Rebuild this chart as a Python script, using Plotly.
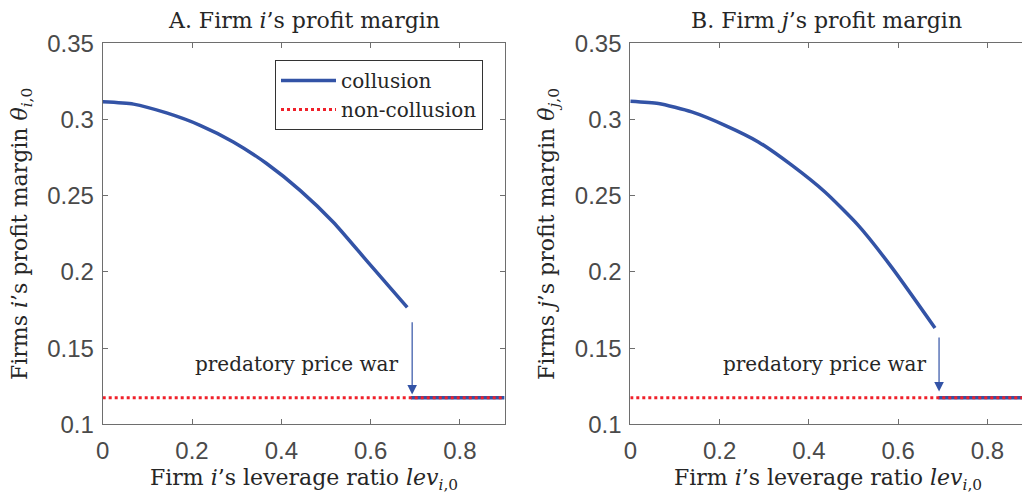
import plotly.graph_objects as go

# ---- data ----
lev_col = [0.0, 0.069, 0.143, 0.218, 0.2925, 0.367, 0.442, 0.5165, 0.591, 0.682]
theta_i_col = [0.3116, 0.3101, 0.3043, 0.2962, 0.2853, 0.2711, 0.2535, 0.2326, 0.2074, 0.1767]
lev_col_j = [0.0, 0.063, 0.1375, 0.212, 0.2867, 0.3615, 0.436, 0.5106, 0.5855, 0.6824]
theta_j_col = [0.312, 0.3105, 0.305, 0.2962, 0.2853, 0.270, 0.2524, 0.2305, 0.203, 0.1632]
lev_war = [0.69, 0.9]
theta_war = [0.1175, 0.1175]
lev_noncol = [0.0, 0.9]
theta_noncol = [0.1175, 0.1175]
arrow_i = dict(x=0.693, y_from=0.168, y_to=0.1195)
arrow_j = dict(x=0.6915, y_from=0.158, y_to=0.1215)
x_ticks = [0, 0.2, 0.4, 0.6, 0.8]
x_ticklabels = ["0", "0.2", "0.4", "0.6", "0.8"]
y_ticks = [0.1, 0.15, 0.2, 0.25, 0.3, 0.35]
y_ticklabels = ["0.1", "0.15", "0.2", "0.25", "0.3", "0.35"]

BLUE = "#3353a6"
RED = "#f0202a"
AXC = "#6e6e6e"
TXT = "#262626"
TICKTXT = "#4a4a4a"
SERIF = "DejaVu Serif"
SANS = "Liberation Sans"

W, H = 1022, 495
fig = go.Figure()

def add_panel(xs, ys, xa, ya, legend):
    fig.add_trace(go.Scatter(x=xs, y=ys, mode="lines",
                             line=dict(color=BLUE, width=3.5, shape="spline", smoothing=0.6),
                             name="collusion", legendgroup="c",
                             showlegend=legend, xaxis=xa, yaxis=ya))
    fig.add_trace(go.Scatter(x=lev_war, y=theta_war, mode="lines",
                             line=dict(color=BLUE, width=3.5), name="collusion", legendgroup="c",
                             showlegend=False, xaxis=xa, yaxis=ya))
    fig.add_trace(go.Scatter(x=lev_noncol, y=theta_noncol, mode="lines",
                             line=dict(color=RED, width=3, dash="dot"), name="non-collusion",
                             showlegend=legend, xaxis=xa, yaxis=ya))

add_panel(lev_col, theta_i_col, "x", "y", True)
add_panel(lev_col_j, theta_j_col, "x2", "y2", False)

px = lambda v: v / W
py = lambda v: 1 - v / H

axis_common = dict(showline=True, linecolor=AXC, linewidth=1, ticks="inside", ticklen=5,
                   tickcolor=AXC, showgrid=False, zeroline=False, automargin=False,
                   tickfont=dict(family=SANS, size=24, color=TICKTXT))
ydom = [py(424.3), py(43.3)]
fig.update_layout(
    width=W, height=H, margin=dict(l=0, r=0, t=0, b=0, autoexpand=False),
    plot_bgcolor="white", paper_bgcolor="white",
    xaxis=dict(domain=[px(102.7), px(504.6)], range=[0, 0.9], tickvals=x_ticks, ticktext=x_ticklabels,
               mirror="ticks", anchor="y", ticklabelstandoff=5, **axis_common),
    yaxis=dict(domain=ydom, range=[0.1, 0.35], tickvals=y_ticks, ticktext=y_ticklabels,
               mirror="ticks", anchor="x", ticklabelstandoff=3, **axis_common),
    xaxis2=dict(domain=[px(630.3), 1.0], range=[0, (1022 - 630.3) / 446.5], tickvals=x_ticks,
                ticktext=x_ticklabels, mirror="ticks", anchor="y2", ticklabelstandoff=5, **axis_common),
    yaxis2=dict(domain=ydom, range=[0.1, 0.35], tickvals=y_ticks, ticktext=y_ticklabels,
                mirror=False, anchor="x2", ticklabelstandoff=3, **axis_common),
    legend=dict(x=px(275), y=py(60), xanchor="left", yanchor="top", bgcolor="white",
                bordercolor="#333", borderwidth=1, font=dict(family=SERIF, size=20, color=TXT),
                itemwidth=55, tracegroupgap=0),
    showlegend=True,
)

ann = []
lab_font = dict(family=SERIF, size=22, color=TXT)
for xa, ya, letter, who, ylx, arr in [("x", "y", "A", "i", 22, arrow_i), ("x2", "y2", "B", "j", 549, arrow_j)]:
    ann.append(dict(text=f"{letter}. Firm <i>{who}</i>’s profit margin", xref=f"{xa} domain", x=0.5,
                    yref="paper", y=py(20), showarrow=False, font=lab_font, xanchor="center", yanchor="middle"))
    ann.append(dict(text="Firm <i>i</i>’s leverage ratio <i>lev</i><sub><i>i</i>,0</sub>",
                    xref="paper", x=px(303.6 if xa == "x" else 828), yref="paper", y=py(479),
                    showarrow=False, font=lab_font, xanchor="center", yanchor="middle"))
    ann.append(dict(text=f"Firms <i>{who}</i>’s profit margin <i>θ</i><sub><i>{who}</i>,0</sub>",
                    xref="paper", x=px(ylx), yref="paper", y=py(234), textangle=-90,
                    showarrow=False, font=lab_font, xanchor="center", yanchor="middle"))
    ann.append(dict(text="predatory price war", xref=xa, x=0.666, yref=ya, y=0.1397, showarrow=False,
                    font=dict(family=SERIF, size=20, color=TXT), xanchor="right", yanchor="middle"))
    ann.append(dict(text="", xref=xa, yref=ya, x=arr["x"], y=arr["y_to"], axref=xa, ayref=ya,
                    ax=arr["x"], ay=arr["y_from"], showarrow=True, arrowhead=2, arrowsize=1.6,
                    arrowwidth=1.2, arrowcolor=BLUE))
fig.update_layout(annotations=ann)

fig.write_html("out.html")
